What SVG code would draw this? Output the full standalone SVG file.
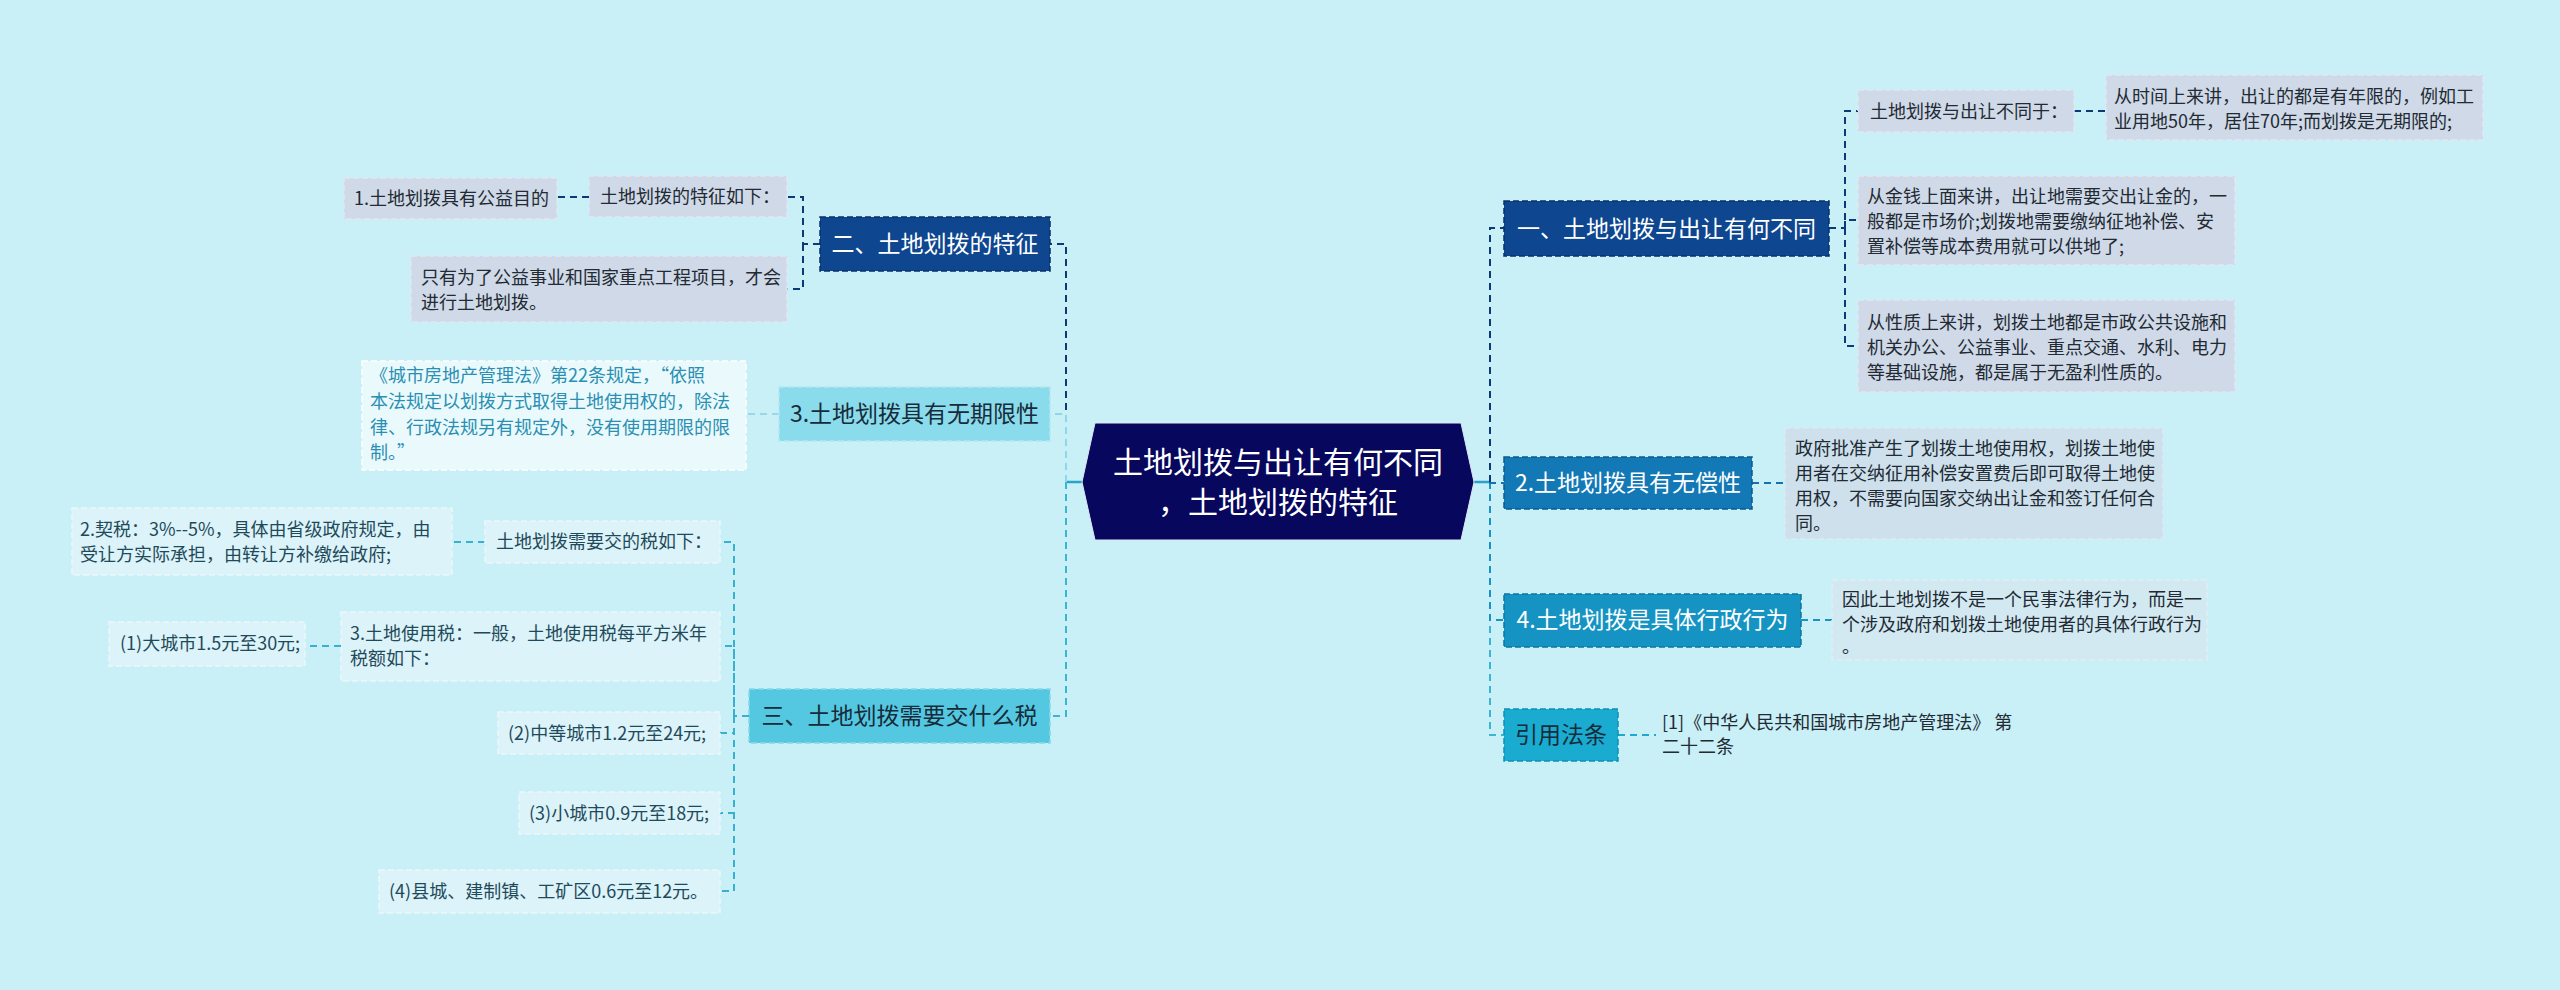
<svg xmlns="http://www.w3.org/2000/svg" width="2560" height="990" viewBox="0 0 2560 990">
<style>
text{font-family:"Noto Sans CJK SC","Noto Sans",sans-serif}
.lf{font-size:18px;fill:#222a33}
.lft{font-size:18px;fill:#1f4a5a}
.lfc{font-size:18px;fill:#2a8fb2}
.mn{font-size:23px;text-anchor:middle}
.w{fill:#ffffff}
.d{fill:#162c3a}
.c{fill:none;stroke-width:2;stroke-dasharray:7 5}
.box{stroke-width:1.5;stroke-dasharray:6 3}
</style>
<rect width="2560" height="990" fill="#c9eff7"/>
<g id="connectors">
<path d="M1066 482H1082M1474 482H1490" fill="none" stroke="#2aa3c9" stroke-width="2.5"/>
<path class="c" stroke="#0c3a78" d="M1066 482V244H1050"/>
<path class="c" stroke="#8fd6e8" d="M1066 482V414H1050"/>
<path class="c" stroke="#3ab5d3" d="M1066 482V716H1050"/>
<path class="c" stroke="#0c3a78" d="M820 244H803V197H787M803 244V289H787M589 197H557"/>
<path class="c" stroke="#9ad7e8" d="M779 414H746"/>
<path class="c" stroke="#3ab0cf" d="M749 716H734V542H720M734 716V646H720M734 716V733H720M734 716V813H720M734 716V891H720M485 542H452M341 646H305"/>
<path class="c" stroke="#3ab5d3" d="M1490 482V735H1504"/>
<path class="c" stroke="#1a92c4" d="M1490 482V620H1504"/>
<path class="c" stroke="#1670b0" d="M1490 482V483H1504"/>
<path class="c" stroke="#0c3a78" d="M1490 482V228H1504"/>
<path class="c" stroke="#0c3a78" d="M1829 228H1845V111H1858M1845 228V220H1858M1845 228V346H1858M2074 111H2106"/>
<path class="c" stroke="#1670b0" d="M1752 483H1785"/>
<path class="c" stroke="#1a92c4" d="M1801 620H1832"/>
<path class="c" stroke="#20a8d0" d="M1618 735H1656"/>
</g>
<g id="root">
<polygon points="1082,482 1095,423 1461,423 1474,482 1461,540 1095,540" fill="#07075e" stroke="#dfe8f5" stroke-width="1"/>
<text x="1278" y="473" font-size="30" text-anchor="middle" class="w">土地划拨与出让有何不同</text>
<text x="1278" y="513" font-size="30" text-anchor="middle" class="w">，土地划拨的特征</text>
</g>
<g id="n2">
<rect class="box" x="820" y="217" width="230" height="54" fill="#0e4690" stroke="#0a2f68"/>
<text class="mn w" x="935" y="252">二、土地划拨的特征</text>
</g>
<g id="n2a">
<rect class="box" x="589" y="176" width="198" height="41" fill="#cfd9e7" stroke="#e0e8f2"/>
<text class="lf" x="600" y="203">土地划拨的特征如下：</text>
</g>
<g id="n2a1">
<rect class="box" x="344" y="178" width="213" height="41" fill="#cfd9e7" stroke="#e0e8f2"/>
<text class="lf" x="354" y="205">1.土地划拨具有公益目的</text>
</g>
<g id="n2b">
<rect class="box" x="411" y="256" width="376" height="66" fill="#cfd9e7" stroke="#e0e8f2"/>
<text class="lf" x="421" y="284">只有为了公益事业和国家重点工程项目，才会</text>
<text class="lf" x="421" y="309">进行土地划拨。</text>
</g>
<g id="n3">
<rect class="box" x="779" y="387" width="271" height="54" fill="#8adbeb" stroke="#b4e8f2"/>
<text class="mn d" x="914.5" y="422">3.土地划拨具有无期限性</text>
</g>
<g id="n3a">
<rect class="box" x="362" y="361" width="384" height="109" fill="#e9f9fc" stroke="#ffffff"/>
<text class="lfc" x="370" y="382">《城市房地产管理法》第22条规定，“依照</text>
<text class="lfc" x="370" y="408">本法规定以划拨方式取得土地使用权的，除法</text>
<text class="lfc" x="370" y="434">律、行政法规另有规定外，没有使用期限的限</text>
<text class="lfc" x="370" y="459">制。”</text>
</g>
<g id="n4">
<rect class="box" x="749" y="689" width="301" height="54" fill="#55c8e1" stroke="#86d9ea"/>
<text class="mn d" x="899.5" y="724">三、土地划拨需要交什么税</text>
</g>
<g id="n4a">
<rect class="box" x="485" y="521" width="235" height="42" fill="#dcf3f9" stroke="#eaf8fb"/>
<text class="lft" x="496" y="548">土地划拨需要交的税如下：</text>
</g>
<g id="n4a1">
<rect class="box" x="72" y="508" width="380" height="67" fill="#dcf3f9" stroke="#eaf8fb"/>
<text class="lft" x="80" y="536">2.契税：3%--5%，具体由省级政府规定，由</text>
<text class="lft" x="80" y="561">受让方实际承担，由转让方补缴给政府;</text>
</g>
<g id="n4b">
<rect class="box" x="341" y="612" width="379" height="69" fill="#dcf3f9" stroke="#eaf8fb"/>
<text class="lft" x="350" y="640">3.土地使用税：一般，土地使用税每平方米年</text>
<text class="lft" x="350" y="665">税额如下：</text>
</g>
<g id="n4b1">
<rect class="box" x="109" y="622" width="196" height="44" fill="#dcf3f9" stroke="#eaf8fb"/>
<text class="lft" x="120" y="650">(1)大城市1.5元至30元;</text>
</g>
<g id="n4c">
<rect class="box" x="498" y="712" width="222" height="42" fill="#dcf3f9" stroke="#eaf8fb"/>
<text class="lft" x="508" y="740">(2)中等城市1.2元至24元;</text>
</g>
<g id="n4d">
<rect class="box" x="519" y="792" width="201" height="42" fill="#dcf3f9" stroke="#eaf8fb"/>
<text class="lft" x="529" y="820">(3)小城市0.9元至18元;</text>
</g>
<g id="n4e">
<rect class="box" x="379" y="870" width="341" height="43" fill="#dcf3f9" stroke="#eaf8fb"/>
<text class="lft" x="389" y="898">(4)县城、建制镇、工矿区0.6元至12元。</text>
</g>
<g id="r1">
<rect class="box" x="1504" y="201" width="325" height="55" fill="#0e4690" stroke="#0a2f68"/>
<text class="mn w" x="1666.5" y="237">一、土地划拨与出让有何不同</text>
</g>
<g id="r1a">
<rect class="box" x="1858" y="90" width="216" height="42" fill="#cfd9e7" stroke="#e0e8f2"/>
<text class="lf" x="1870" y="118">土地划拨与出让不同于：</text>
</g>
<g id="r1a1">
<rect class="box" x="2106" y="75" width="377" height="65" fill="#cfd9e7" stroke="#e0e8f2"/>
<text class="lf" x="2114" y="103">从时间上来讲，出让的都是有年限的，例如工</text>
<text class="lf" x="2114" y="128">业用地50年，居住70年;而划拨是无期限的;</text>
</g>
<g id="r1b">
<rect class="box" x="1858" y="176" width="377" height="89" fill="#cfd9e7" stroke="#e0e8f2"/>
<text class="lf" x="1867" y="203">从金钱上面来讲，出让地需要交出让金的，一</text>
<text class="lf" x="1867" y="228">般都是市场价;划拨地需要缴纳征地补偿、安</text>
<text class="lf" x="1867" y="253">置补偿等成本费用就可以供地了;</text>
</g>
<g id="r1c">
<rect class="box" x="1858" y="300" width="377" height="92" fill="#cfd9e7" stroke="#e0e8f2"/>
<text class="lf" x="1867" y="329">从性质上来讲，划拨土地都是市政公共设施和</text>
<text class="lf" x="1867" y="354">机关办公、公益事业、重点交通、水利、电力</text>
<text class="lf" x="1867" y="379">等基础设施，都是属于无盈利性质的。</text>
</g>
<g id="r2">
<rect class="box" x="1504" y="457" width="248" height="52" fill="#1378b6" stroke="#0d5a90"/>
<text class="mn w" x="1628" y="491">2.土地划拨具有无偿性</text>
</g>
<g id="r2a">
<rect class="box" x="1785" y="428" width="378" height="111" fill="#cde0ec" stroke="#dde9f2"/>
<text class="lf" x="1795" y="455">政府批准产生了划拨土地使用权，划拨土地使</text>
<text class="lf" x="1795" y="480">用者在交纳征用补偿安置费后即可取得土地使</text>
<text class="lf" x="1795" y="505">用权，不需要向国家交纳出让金和签订任何合</text>
<text class="lf" x="1795" y="530">同。</text>
</g>
<g id="r3">
<rect class="box" x="1504" y="594" width="297" height="53" fill="#1594c4" stroke="#0f76a0"/>
<text class="mn w" x="1652.5" y="628">4.土地划拨是具体行政行为</text>
</g>
<g id="r3a">
<rect class="box" x="1832" y="580" width="375" height="80" fill="#d2e9f2" stroke="#e0eff5"/>
<text class="lf" x="1842" y="606">因此土地划拨不是一个民事法律行为，而是一</text>
<text class="lf" x="1842" y="631">个涉及政府和划拨土地使用者的具体行政行为</text>
<text class="lf" x="1842" y="653">。</text>
</g>
<g id="r4">
<rect class="box" x="1504" y="709" width="114" height="52" fill="#1aabd1" stroke="#1090b4"/>
<text class="mn d" x="1561" y="743">引用法条</text>
</g>
<g id="r4a">
<text class="lf" x="1662" y="729">[1]《中华人民共和国城市房地产管理法》 第</text>
<text class="lf" x="1662" y="753">二十二条</text>
</g>
</svg>
